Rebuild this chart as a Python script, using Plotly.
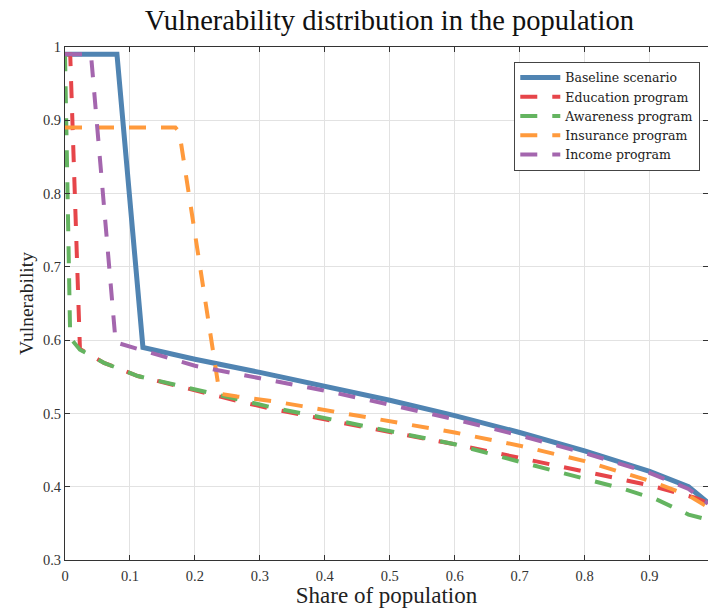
import plotly.graph_objects as go

# Data
baseline_x = [0, 0.08, 0.12, 0.2, 0.3, 0.4, 0.5, 0.6, 0.7, 0.8, 0.9, 0.96, 0.99]
baseline_y = [0.99, 0.99, 0.59, 0.574, 0.556, 0.537, 0.518, 0.497, 0.474, 0.449, 0.421, 0.40, 0.378]

education_x = [0, 0.008, 0.023, 0.06, 0.112, 0.165, 0.218, 0.27, 0.32, 0.365, 0.45, 0.6, 0.7, 0.8, 0.9, 0.97, 0.99]
education_y = [0.99, 0.99, 0.588, 0.569, 0.551, 0.539, 0.528, 0.516, 0.506, 0.498, 0.483, 0.458, 0.439, 0.42, 0.402, 0.385, 0.378]

awareness_x = [0, 0.008, 0.023, 0.06, 0.112, 0.165, 0.218, 0.27, 0.32, 0.365, 0.45, 0.6, 0.7, 0.8, 0.86, 0.91, 0.96, 0.99]
awareness_y = [0.99, 0.603, 0.587, 0.569, 0.551, 0.54, 0.53, 0.519, 0.508, 0.50, 0.485, 0.458, 0.434, 0.41, 0.397, 0.383, 0.362, 0.355]

insurance_x = [0, 0.17, 0.176, 0.238, 0.265, 0.318, 0.365, 0.45, 0.6, 0.7, 0.8, 0.9, 0.96, 0.99]
insurance_y = [0.89, 0.89, 0.884, 0.527, 0.523, 0.517, 0.51, 0.497, 0.474, 0.456, 0.435, 0.408, 0.388, 0.372]

income_x = [0, 0.04, 0.078, 0.2, 0.3, 0.4, 0.5, 0.6, 0.7, 0.8, 0.9, 0.96, 0.99]
income_y = [0.99, 0.99, 0.597, 0.565, 0.548, 0.531, 0.512, 0.492, 0.47, 0.446, 0.419, 0.397, 0.377]

FONT = "Liberation Serif"
dash = "17px,15px"

fig = go.Figure()
fig.add_trace(go.Scatter(x=baseline_x, y=baseline_y, mode="lines", name="Baseline scenario",
                         line=dict(color="#5084b2", width=5)))
fig.add_trace(go.Scatter(x=education_x, y=education_y, mode="lines", name="Education program",
                         line=dict(color="#e6454a", width=4, dash=dash)))
fig.add_trace(go.Scatter(x=awareness_x, y=awareness_y, mode="lines", name="Awareness program",
                         line=dict(color="#64b460", width=4, dash=dash)))
fig.add_trace(go.Scatter(x=insurance_x, y=insurance_y, mode="lines", name="Insurance program",
                         line=dict(color="#ff9a3c", width=4, dash=dash)))
fig.add_trace(go.Scatter(x=income_x, y=income_y, mode="lines", name="Income program",
                         line=dict(color="#a466ae", width=4, dash=dash)))

fig.update_layout(
    width=708, height=608,
    margin=dict(l=65, r=0, t=47, b=48, autoexpand=False),
    paper_bgcolor="white", plot_bgcolor="white",
    font=dict(family=FONT, color="#222"),
    title=dict(text="Vulnerability distribution in the population", x=0.55, xanchor="center",
               y=0.983, yanchor="top", font=dict(family=FONT, size=28.5, color="#111")),
    showlegend=True,
    legend=dict(x=0.988, y=0.971, xanchor="right", yanchor="top",
                bgcolor="white", bordercolor="#444", borderwidth=1,
                font=dict(family="DejaVu Serif", size=12.5, color="#222"),
                tracegroupgap=0, itemwidth=40),
    xaxis=dict(range=[0, 0.99], dtick=0.1, tick0=0, showgrid=True, gridcolor="#e2e2e2",
               zeroline=False, showline=True, linecolor="#333", linewidth=1, mirror="ticks",
               ticks="inside", ticklen=5, tickcolor="#333", automargin=False, ticklabelstandoff=3,
               tickfont=dict(family=FONT, size=14.5, color="#333"),
               title=dict(text="Share of population", font=dict(family=FONT, size=23, color="#222"), standoff=2)),
    yaxis=dict(range=[0.3, 1], dtick=0.1, tick0=0.3, showgrid=True, gridcolor="#e2e2e2",
               zeroline=False, showline=True, linecolor="#333", linewidth=1, mirror="ticks",
               ticks="inside", ticklen=5, tickcolor="#333", automargin=False,
               tickfont=dict(family=FONT, size=14.5, color="#333"),
               title=dict(text="Vulnerability", font=dict(family=FONT, size=19.5, color="#222"), standoff=4)),
)

# remove the browser's default page margin so the 708x608 figure fills the window
fig.write_html("out.html", config={"displayModeBar": False},
               post_script="document.body.style.margin='0';document.body.style.overflow='hidden';")
